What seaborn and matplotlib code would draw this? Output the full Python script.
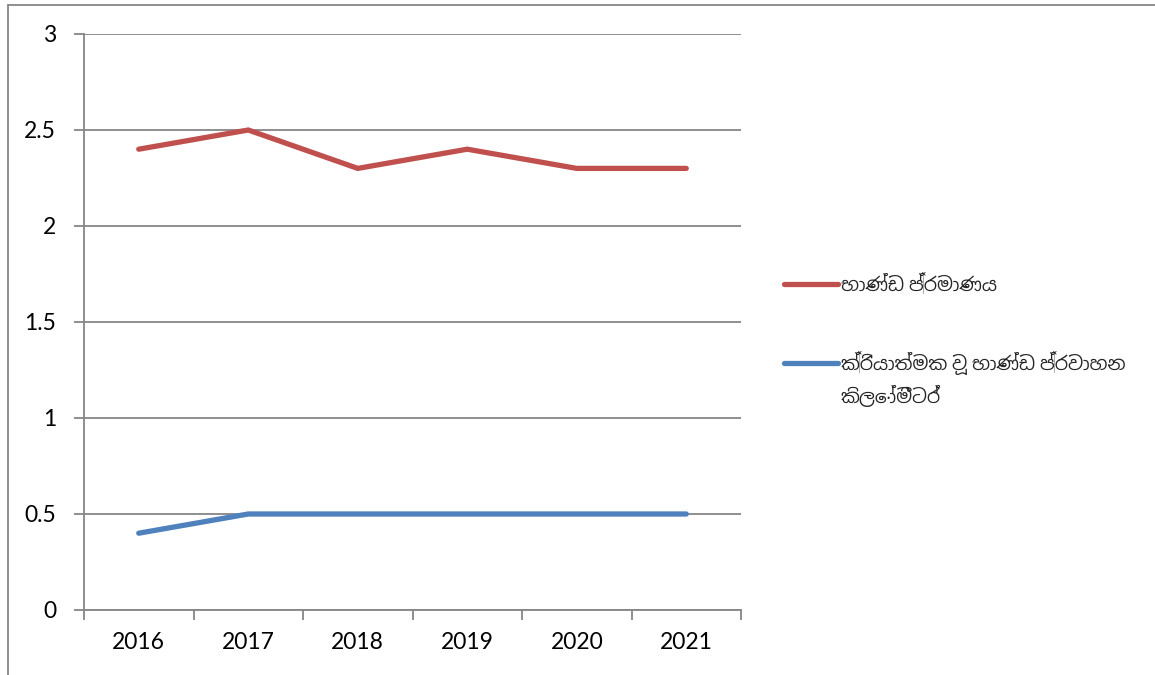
import matplotlib
matplotlib.use("Agg")
import matplotlib.pyplot as plt
import seaborn as sns
import pandas as pd
from matplotlib.lines import Line2D

# Data
years = ["2016", "2017", "2018", "2019", "2020", "2021"]
goods_volume = [2.4, 2.5, 2.3, 2.4, 2.3, 2.3]
goods_km = [0.4, 0.5, 0.5, 0.5, 0.5, 0.5]
series_names = ["භාණ්ඩ ප්‍රමාණය", "ක්‍රියාත්මක වූ භාණ්ඩ ප්‍රවාහන"]
series_name_cont = "කිලෝමීටර්"
y_ticks = [0, 0.5, 1, 1.5, 2, 2.5, 3]
y_tick_labels = ["0", "0.5", "1", "1.5", "2", "2.5", "3"]

colors = ["#C0504D", "#4F81BD"]
grid_color = "#868686"

sns.set_theme(style="white")
plt.rcParams["font.family"] = ["Lato", "Noto Sans Sinhala", "DejaVu Sans"]

df = pd.DataFrame({
    "pos": list(range(len(years))) * 2,
    "value": goods_volume + goods_km,
    "series": [series_names[0]] * len(years) + [series_names[1]] * len(years),
})

fig = plt.figure(figsize=(11.55, 6.75), dpi=100)
ax = fig.add_axes([84 / 1155, 65 / 675, (741 - 84) / 1155, (610 - 34) / 675])

sns.lineplot(data=df, x="pos", y="value", hue="series", palette=colors,
             linewidth=3.8, ax=ax, legend=False, solid_capstyle="round",
             solid_joinstyle="miter")

ax.set_xlim(-0.5, len(years) - 0.5)
ax.set_ylim(0, 3)
ax.set_xlabel("")
ax.set_ylabel("")

# Horizontal gridlines
ax.set_yticks(y_ticks)
ax.set_yticklabels(y_tick_labels, fontsize=16.5, color="black")
ax.yaxis.grid(True, color=grid_color, linewidth=1.3)
ax.set_axisbelow(True)

# Category labels at centers, tick marks at boundaries
ax.set_xticks(range(len(years)))
ax.set_xticklabels(years, fontsize=16.5, color="black")
ax.set_xticks([i - 0.5 for i in range(len(years) + 1)], minor=True)
ax.tick_params(axis="x", which="major", length=0, pad=16)
ax.tick_params(axis="x", which="minor", length=7, width=1.3, color=grid_color,
               direction="out", bottom=True)
ax.tick_params(axis="y", which="major", length=7, width=1.3, color=grid_color,
               direction="out", left=True, pad=13)

for side in ["top", "right"]:
    ax.spines[side].set_visible(False)
for side in ["left", "bottom"]:
    ax.spines[side].set_color(grid_color)
    ax.spines[side].set_linewidth(1.3)

# Legend
legend_fs = 13.5
handles = [Line2D([0], [0], color=c, linewidth=3.8, solid_capstyle="round") for c in colors]
leg = fig.legend(handles, series_names, loc="upper left",
                 bbox_to_anchor=(776 / 1155, 1 - 264 / 675), frameon=False,
                 fontsize=legend_fs, handlelength=2.9, handletextpad=0.15,
                 labelspacing=3.05, borderaxespad=0)

# Wrapped continuation of the second legend label
fig.canvas.draw()
renderer = fig.canvas.get_renderer()
bb = leg.get_texts()[1].get_window_extent(renderer)
fig.text(bb.x0 / fig.dpi / 11.55, (bb.y0 - 10) / fig.dpi / 6.75, series_name_cont,
         fontsize=legend_fs, ha="left", va="top")

# Outer chart border (left and top edges)
fig.add_artist(Line2D([8 / 1155, 8 / 1155], [0, 1 - 5 / 675], color=grid_color,
                      linewidth=1.3, transform=fig.transFigure))
fig.add_artist(Line2D([8 / 1155, 1], [1 - 5 / 675, 1 - 5 / 675], color=grid_color,
                      linewidth=1.3, transform=fig.transFigure))

fig.savefig("out.png", dpi=100)
